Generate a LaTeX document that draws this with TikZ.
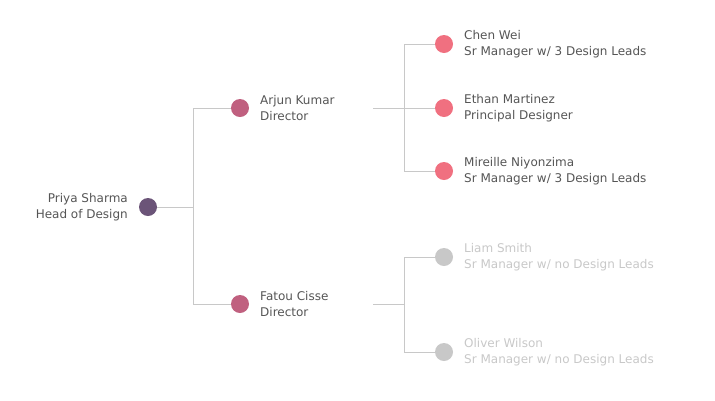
\documentclass[tikz,border=0pt]{standalone}
\usepackage{fontspec}
\setmainfont{DejaVu Sans}
\definecolor{rootc}{HTML}{6B5478}
\definecolor{dirc}{HTML}{C0607F}
\definecolor{mgrc}{HTML}{F07080}
\definecolor{grc}{HTML}{C8C8C8}
\definecolor{txt}{HTML}{555555}
\definecolor{txtl}{HTML}{C8C8C8}
\definecolor{ln}{HTML}{C8C8C8}
\tikzset{
 dot/.style={circle,inner sep=0pt,minimum size=18pt},
 lab/.style={font=\fontsize{12}{16}\selectfont,align=left,anchor=west,text=txt,inner sep=0pt},
 labr/.style={font=\fontsize{12}{16}\selectfont,align=right,anchor=east,text=txt,inner sep=0pt},
 conn/.style={draw=ln,line width=0.8pt}
}
\begin{document}
\begin{tikzpicture}[x=1pt,y=-1pt]
\useasboundingbox (0,0) rectangle (715,400);
\node[dot,fill=rootc] (p) at (148,207) {};
\node[labr] (pt) at (128,207) {Priya Sharma\\Head of Design};
\node[dot,fill=dirc] (a) at (240,108) {};
\node[lab] (at) at (260,108) {Arjun Kumar\\Director};
\node[dot,fill=dirc] (f) at (240,304) {};
\node[lab] (ft) at (260,304) {Fatou Cisse\\Director};
\node[dot,fill=mgrc] (c) at (444,44) {};
\node[lab] at (464,44) {Chen Wei\\Sr Manager w/ 3 Design Leads};
\node[dot,fill=mgrc] (e) at (444,108) {};
\node[lab] at (464,108) {Ethan Martinez\\Principal Designer};
\node[dot,fill=mgrc] (m) at (444,171) {};
\node[lab] at (464,171) {Mireille Niyonzima\\Sr Manager w/ 3 Design Leads};
\node[dot,fill=grc] (l) at (444,257) {};
\node[lab,text=txtl] at (464,257) {Liam Smith\\Sr Manager w/ no Design Leads};
\node[dot,fill=grc] (o) at (444,352) {};
\node[lab,text=txtl] at (464,352) {Oliver Wilson\\Sr Manager w/ no Design Leads};
\coordinate (j1) at (193,207);
\coordinate (j2) at (404,108);
\coordinate (j3) at (404,304);
\coordinate (a0) at (373,108);
\coordinate (f0) at (373,304);
\draw[conn] (p) -- (j1);
\draw[conn] (j1 |- a) -- (j1 |- f);
\draw[conn] (j1 |- a) -- (a);
\draw[conn] (j1 |- f) -- (f);
\draw[conn] (a0) -- (j2);
\draw[conn] (j2 |- c) -- (j2 |- m);
\draw[conn] (j2 |- c) -- (c);
\draw[conn] (j2 |- e) -- (e);
\draw[conn] (j2 |- m) -- (m);
\draw[conn] (f0) -- (j3);
\draw[conn] (j3 |- l) -- (j3 |- o);
\draw[conn] (j3 |- l) -- (l);
\draw[conn] (j3 |- o) -- (o);
\end{tikzpicture}
\end{document}
